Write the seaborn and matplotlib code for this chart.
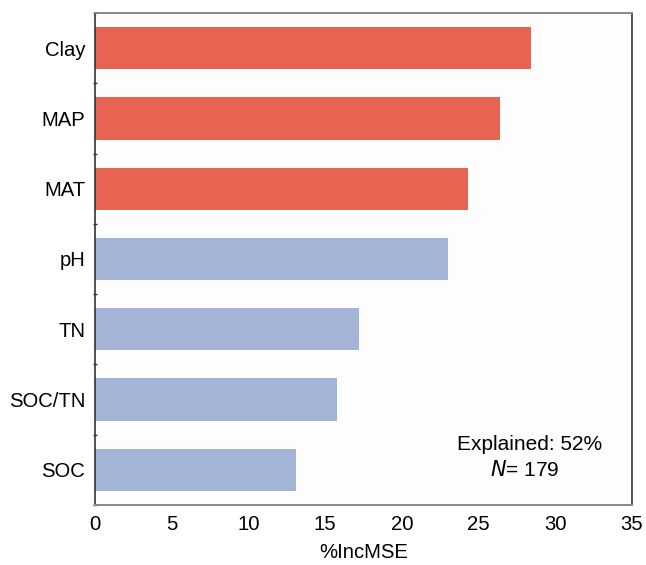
import matplotlib
matplotlib.use("Agg")
import matplotlib.pyplot as plt
from matplotlib.ticker import FixedLocator
import seaborn as sns
import pandas as pd

# Variable importance from the random forest model
variables = ["Clay", "MAP", "MAT", "pH", "TN", "SOC/TN", "SOC"]
inc_mse = [28.4, 26.4, 24.3, 23.0, 17.2, 15.8, 13.1]
groups = ["Climate/texture", "Climate/texture", "Climate/texture",
          "Soil", "Soil", "Soil", "Soil"]
x_ticks = [0, 5, 10, 15, 20, 25, 30, 35]
explained = 52
n_obs = 179

palette = {"Climate/texture": "#E76452", "Soil": "#A4B4D6"}

df = pd.DataFrame({"variable": variables, "IncMSE": inc_mse, "group": groups})

sns.set_style("white")
plt.rcParams["font.family"] = ["Liberation Sans", "DejaVu Sans"]
plt.rcParams["text.color"] = "black"
plt.rcParams["axes.labelcolor"] = "black"
plt.rcParams["xtick.color"] = "black"
plt.rcParams["ytick.color"] = "black"

FS = 15
TICK_FS = 14.6

fig = plt.figure(figsize=(6.46, 5.65), dpi=100)
fig.patch.set_facecolor("white")
ax = fig.add_axes([95 / 646, 60 / 565, 537 / 646, 492 / 565])
ax.set_facecolor("#fdfdfd")

sns.barplot(data=df, x="IncMSE", y="variable", hue="group", palette=palette,
            orient="h", width=0.6, dodge=False, legend=False, ax=ax,
            saturation=1, linewidth=0)

ax.set_xlim(0, 35)
ax.set_ylim(6.5, -0.5)
ax.set_xticks(x_ticks)
ax.set_xticklabels([str(t) for t in x_ticks], fontsize=TICK_FS)
ax.tick_params(axis="y", which="major", length=0, pad=7, labelsize=TICK_FS,
               labelcolor="black")
ax.tick_params(axis="x", which="major", length=3, width=1, color="#555555",
               direction="out", pad=4, labelcolor="black")
ax.yaxis.set_minor_locator(FixedLocator([i + 0.5 for i in range(-1, 7)]))
ax.tick_params(axis="y", which="minor", length=3, width=1, color="#333333",
               direction="inout", left=True)
ax.set_xlabel("%IncMSE", fontsize=TICK_FS, labelpad=7)
ax.set_ylabel("")

for side in ["top", "bottom"]:
    ax.spines[side].set_color("#888888")
    ax.spines[side].set_linewidth(1.4)
for side in ["left", "right"]:
    ax.spines[side].set_color("#333333")
    ax.spines[side].set_linewidth(1.2)

ax.text(0.81, 0.122, f"Explained: {explained}%", transform=ax.transAxes,
        ha="center", va="center", fontsize=FS)
ax.text(0.80, 0.071, f"$\\it{{N}}$= {n_obs}", transform=ax.transAxes,
        ha="center", va="center", fontsize=FS)

fig.savefig("out.png", dpi=100)
